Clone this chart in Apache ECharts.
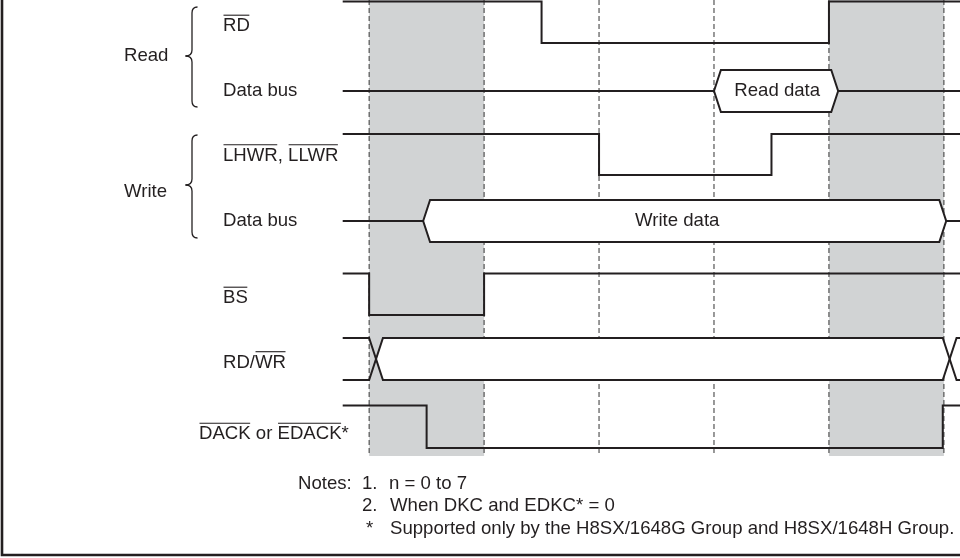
<!DOCTYPE html>
<html><head><meta charset="utf-8">
<script src="https://cdn.jsdelivr.net/npm/echarts@6/dist/echarts.min.js"></script>
<style>html,body{margin:0;padding:0;background:#fff}#c{width:960px;height:558px}</style>
</head><body><div id="c"></div>
<script>
// ================= DATA (times in bus-clock phase units) =================
const phaseTicks   = [0, 1, 2, 3, 4, 5];          // dashed phase boundaries
const shadedPhases = [[0, 1], [4, 5]];            // grey (idle) phases
// step signals: transition times and logic levels (1 = high, 0 = low)
const rdTimes    = [-0.23, 1.5, 4.0, 5.14];
const rdLevels   = [1, 0, 1, 1];
const lhwrTimes  = [-0.23, 2.0, 3.5, 5.14];
const lhwrLevels = [1, 0, 1, 1];
const bsTimes    = [-0.23, 0.0, 1.0, 5.14];
const bsLevels   = [1, 0, 1, 1];
const dackTimes  = [-0.23, 0.5, 4.99, 5.14];
const dackLevels = [1, 0, 1, 1];
// bus signals: valid window [start, end]
const readDataWindow  = [3.0, 4.08];
const writeDataWindow = [0.47, 5.02];
const rdwrCrossings   = [0.0, 4.99];
const busTexts = ['Read data', 'Write data'];
const busTextTimes = [3.55, 2.68];

// ================= LAYOUT / STYLE =================
const X_MIN = -0.23, X_MAX = 5.14;
const INK = '#231f20', GRAY = '#d1d3d4';
const FAMILY = '"Liberation Sans", Arial, Helvetica, sans-serif';
const FS = 18.6;
const FONT = FS + 'px ' + FAMILY;
const BUS_EDGE = 0.06, CROSS_W = 0.12;
const rows = {
  rd:   {hi: 1.5, lo: 43},
  lhwr: {hi: 134, lo: 175},
  bs:   {hi: 273.5, lo: 315},
  rdwr: {hi: 338, lo: 380},
  dack: {hi: 405.5, lo: 448},
  readBus:  {mid: 91, half: 21},
  writeBus: {mid: 221, half: 21},
  guideBottom: 456
};

function stepSeries(times, levels, row) {
  return {
    type: 'line', step: 'end', symbol: 'none', z: 5, silent: true,
    lineStyle: {color: INK, width: 2, join: 'miter'},
    data: times.map((t, i) => [t, levels[i] ? row.hi : row.lo])
  };
}

function busSeries(win, row, label, labelT) {
  return {
    type: 'custom', z: 3, silent: true,
    data: [[win[0], win[1], labelT]],
    renderItem(params, api) {
      const t0 = api.value(0), t1 = api.value(1), lt = api.value(2);
      const P = (t, y) => api.coord([t, y]);
      const m = row.mid, h = row.half, s = BUS_EDGE;
      const lp = P(lt, m);
      return {type: 'group', children: [
        {type: 'polyline', shape: {points: [P(X_MIN, m), P(t0, m)]}, style: {stroke: INK, lineWidth: 2, fill: null}},
        {type: 'polyline', shape: {points: [P(t1, m), P(X_MAX, m)]}, style: {stroke: INK, lineWidth: 2, fill: null}},
        {type: 'polygon', shape: {points: [P(t0, m), P(t0 + s, m - h), P(t1 - s, m - h), P(t1, m), P(t1 - s, m + h), P(t0 + s, m + h)]},
         style: {fill: '#fff', stroke: INK, lineWidth: 2, lineJoin: 'miter'}},
        {type: 'text', style: {text: label, x: lp[0], y: lp[1], align: 'center', verticalAlign: 'middle',
          textAlign: 'center', textVerticalAlign: 'middle', font: FONT, fill: INK}}
      ]};
    }
  };
}

const rdwrSeries = {
  type: 'custom', z: 3, silent: true,
  data: [[rdwrCrossings[0], rdwrCrossings[1]]],
  renderItem(params, api) {
    const c0 = api.value(0), c1 = api.value(1), w = CROSS_W;
    const P = (t, y) => api.coord([t, y]);
    const hi = rows.rdwr.hi, lo = rows.rdwr.lo, mid = (hi + lo) / 2;
    return {type: 'group', children: [
      {type: 'polygon', shape: {points: [P(c0 + w / 2, mid), P(c0 + w, hi), P(c1, hi), P(c1 + w / 2, mid), P(c1, lo), P(c0 + w, lo)]},
       style: {fill: '#fff', stroke: null}},
      {type: 'polyline', shape: {points: [P(X_MIN, hi), P(c0, hi), P(c0 + w, lo), P(c1, lo), P(c1 + w, hi), P(X_MAX, hi)]},
       style: {stroke: INK, lineWidth: 2, fill: null, lineJoin: 'miter'}},
      {type: 'polyline', shape: {points: [P(X_MIN, lo), P(c0, lo), P(c0 + w, hi), P(c1, hi), P(c1 + w, lo), P(X_MAX, lo)]},
       style: {stroke: INK, lineWidth: 2, fill: null, lineJoin: 'miter'}}
    ]};
  }
};

const shadeSeries = {
  type: 'custom', z: 1, silent: true,
  data: shadedPhases,
  renderItem(params, api) {
    const a = api.coord([api.value(0), 0]), b = api.coord([api.value(1), rows.guideBottom]);
    return {type: 'rect', shape: {x: a[0], y: a[1], width: b[0] - a[0], height: b[1] - a[1]}, style: {fill: GRAY}};
  }
};

const guideSeries = {
  type: 'custom', z: 2, silent: true,
  data: phaseTicks.map(t => [t]),
  renderItem(params, api) {
    const a = api.coord([api.value(0), 0]), b = api.coord([api.value(0), rows.guideBottom]);
    return {type: 'line', shape: {x1: a[0], y1: a[1], x2: b[0], y2: b[1]},
      style: {stroke: '#333333', lineWidth: 1, lineDash: [5, 3]}};
  }
};

// ---------- left-side labels with overlines ----------
const mctx = document.createElement('canvas').getContext('2d');
mctx.font = FONT;
const tw = s => mctx.measureText(s).width;

const signalLabels = [
  {x: 223, y: 26,    parts: [['RD', 1]]},
  {x: 223, y: 91,    parts: [['Data bus', 0]]},
  {x: 223, y: 155.5, parts: [['LHWR', 1], [', ', 0], ['LLWR', 1]]},
  {x: 223, y: 221,   parts: [['Data bus', 0]]},
  {x: 223, y: 298,   parts: [['BS', 1]]},
  {x: 223, y: 362.5, parts: [['RD/', 0], ['WR', 1]]},
  {x: 199, y: 434,   parts: [['DACK', 1], [' or ', 0], ['EDACK', 1], ['*', 0]]}
];

function txt(text, x, y, align) {
  return {type: 'text', x: x, y: y, silent: true,
    style: {text: text, font: FONT, fill: INK, align: align || 'left', verticalAlign: 'middle',
      textAlign: align || 'left', textVerticalAlign: 'middle'}};
}

const graphics = [];
signalLabels.forEach(l => {
  graphics.push(txt(l.parts.map(p => p[0]).join(''), l.x, l.y));
  let off = 0;
  l.parts.forEach(p => {
    const w = tw(p[0]);
    if (p[1]) {
      graphics.push({type: 'line', silent: true,
        shape: {x1: l.x + off + 0.5, y1: l.y - 10.8, x2: l.x + off + w - 0.5, y2: l.y - 10.8},
        style: {stroke: INK, lineWidth: 1.1}});
    }
    off += w;
  });
});
graphics.push(txt('Read', 124, 56));
graphics.push(txt('Write', 124, 191.5));

function brace(top, bottom, tip) {
  const vx = 192, ex = 197.5, tx = 185.5, r = 6;
  const st = {stroke: INK, lineWidth: 1.3, fill: null};
  return [
    {type: 'bezierCurve', silent: true, shape: {x1: ex, y1: top, cpx1: vx, cpy1: top, x2: vx, y2: top + r}, style: st},
    {type: 'line', silent: true, shape: {x1: vx, y1: top + r, x2: vx, y2: tip - r}, style: st},
    {type: 'bezierCurve', silent: true, shape: {x1: vx, y1: tip - r, cpx1: vx, cpy1: tip, x2: tx, y2: tip}, style: st},
    {type: 'bezierCurve', silent: true, shape: {x1: tx, y1: tip, cpx1: vx, cpy1: tip, x2: vx, y2: tip + r}, style: st},
    {type: 'line', silent: true, shape: {x1: vx, y1: tip + r, x2: vx, y2: bottom - r}, style: st},
    {type: 'bezierCurve', silent: true, shape: {x1: vx, y1: bottom - r, cpx1: vx, cpy1: bottom, x2: ex, y2: bottom}, style: st}
  ];
}
graphics.push(...brace(7, 107, 56));
graphics.push(...brace(135, 238, 185));

// notes
graphics.push(txt('Notes:', 298, 483.5));
graphics.push(txt('1.', 362, 483.5));
graphics.push(txt('n = 0 to 7', 389, 483.5));
graphics.push(txt('2.', 362, 506));
graphics.push(txt('When DKC and EDKC* = 0', 390, 506));
graphics.push(txt('*', 366, 528.5));
graphics.push(txt('Supported only by the H8SX/1648G Group and H8SX/1648H Group.', 390, 528.5));

// frame (left and bottom edges)
graphics.push({type: 'polyline', silent: true, shape: {points: [[2, 0], [2, 555], [960, 555]]},
  style: {stroke: INK, lineWidth: 2.6, fill: null}});

const chart = echarts.init(document.getElementById('c'), null, {renderer: 'canvas'});
chart.setOption({
  animation: false,
  backgroundColor: '#fff',
  grid: {left: 342.7, right: 0, top: 0, bottom: 0, containLabel: false},
  xAxis: {type: 'value', min: X_MIN, max: X_MAX, show: false},
  yAxis: {type: 'value', min: 0, max: 558, inverse: true, show: false},
  series: [
    shadeSeries,
    guideSeries,
    busSeries(readDataWindow, rows.readBus, busTexts[0], busTextTimes[0]),
    busSeries(writeDataWindow, rows.writeBus, busTexts[1], busTextTimes[1]),
    rdwrSeries,
    stepSeries(rdTimes, rdLevels, rows.rd),
    stepSeries(lhwrTimes, lhwrLevels, rows.lhwr),
    stepSeries(bsTimes, bsLevels, rows.bs),
    stepSeries(dackTimes, dackLevels, rows.dack)
  ],
  graphic: {elements: graphics}
});
</script>
</body></html>
